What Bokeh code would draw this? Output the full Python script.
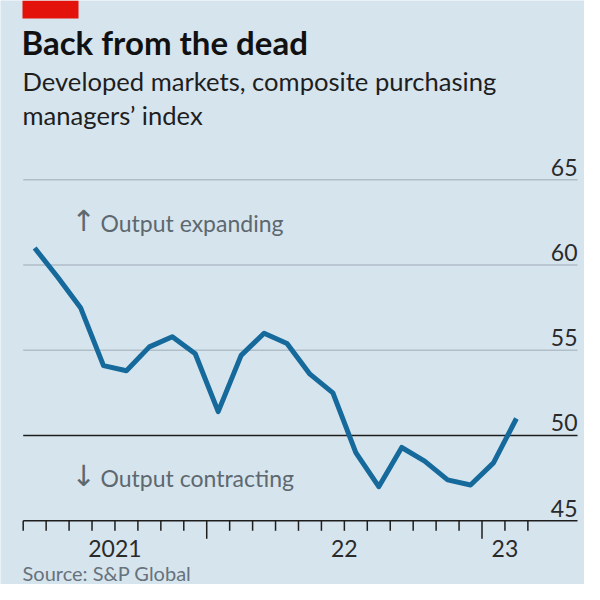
from bokeh.plotting import figure
from bokeh.models import Range1d
from bokeh.embed import file_html
from bokeh.resources import INLINE
from bokeh.core.properties import value

# ---- data ----
months = ["2021-05", "2021-06", "2021-07", "2021-08", "2021-09", "2021-10", "2021-11", "2021-12",
          "2022-01", "2022-02", "2022-03", "2022-04", "2022-05", "2022-06", "2022-07", "2022-08",
          "2022-09", "2022-10", "2022-11", "2022-12", "2023-01", "2023-02"]
pmi = [61.0, 59.3, 57.5, 54.1, 53.8, 55.2, 55.8, 54.8, 51.4, 54.7, 56.0, 55.4,
       53.6, 52.5, 49.0, 47.0, 49.3, 48.5, 47.4, 47.1, 48.4, 51.0]
y_ticks = [45, 50, 55, 60, 65]
y_tick_labels = ["45", "50", "55", "60", "65"]
year_labels = ["2021", "22", "23"]
year_starts = [8, 20]          # month index of 1 Jan 2022 and 1 Jan 2023 (index 0 = May 2021)
n_month_ticks = 23             # month boundaries May 2021 .. Mar 2023

# ---- geometry (pixel scale of the canvas) ----
W, H = 584, 584
PPM = 22.94      # pixels per month
PPU = 17.05      # pixels per index point
X_LEFT_PX = 22.7
Y45_PX = 520.3
xs = -X_LEFT_PX / PPM
xe = xs + W / PPM
yt = 45 + Y45_PX / PPU
yb = yt - H / PPU


def X(px):
    return xs + px / PPM


def Y(py):
    return yt - py / PPU


def boff(size, k=0.42):
    # correction so that the given y is the alphabetic baseline
    return -k * size


BG = "#d6e4ee"
FONT = "Lato"
p = figure(width=W, height=H, output_backend="svg", toolbar_location=None,
           x_axis_location=None, y_axis_location=None,
           x_range=Range1d(xs, xe), y_range=Range1d(yb, yt),
           min_border=0, background_fill_color=BG, border_fill_color=BG,
           outline_line_color=None)
p.grid.visible = False

x_end = X(577)

# gridlines
grid_levels = [v for v in y_ticks if v not in (45, 50)]
p.segment(x0=[0] * len(grid_levels), x1=[x_end] * len(grid_levels), y0=grid_levels, y1=grid_levels,
          line_color="#b0bec8", line_width=1.6)
# 50 line and axis baseline
p.segment(x0=[0, 0], x1=[x_end, x_end], y0=[50, 45], y1=[50, 45], line_color="#1e1e1e", line_width=1.6)

# month ticks
tick_len = 10 / PPU
long_len = 18 / PPU
tx = list(range(n_month_ticks))
ty1 = [45 - (long_len if t in year_starts else tick_len) for t in tx]
p.segment(x0=tx, x1=tx, y0=[45] * len(tx), y1=ty1, line_color="#1e1e1e", line_width=1.5)

# year labels centred in the visible span of each year
NS = 23
bounds = [0] + year_starts + [n_month_ticks - 1]
year_pos = [(bounds[i] + bounds[i + 1]) / 2 for i in range(len(year_labels))]
p.text(x=year_pos, y=[45] * len(year_pos), text=year_labels, text_align="center",
       text_baseline="alphabetic", y_offset=37.5 + boff(NS), text_font=value(FONT),
       text_font_size=f"{NS}px", text_color="#2a2a2a")

# y labels at right, above the lines
p.text(x=[x_end] * len(y_ticks), y=y_ticks, text=y_tick_labels, text_align="right",
       text_baseline="alphabetic", y_offset=-3 + boff(NS), text_font=value(FONT),
       text_font_size=f"{NS}px", text_color="#2a2a2a")

# data line
mx = [i + 0.5 for i in range(len(pmi))]
p.line(mx, pmi, line_color="#15699b", line_width=5, line_join="round", line_cap="butt")

# annotations
ANN = "#5d686f"
AS = 23
ARS = 29
p.text(x=[X(71), X(71)], y=[Y(233), Y(488.3)], text=["↑", "↓"], text_font=value("DejaVu Sans"),
       text_font_size=f"{ARS}px", text_color=ANN, text_baseline="alphabetic", y_offset=boff(ARS, 0.44))
p.text(x=[X(100)], y=[Y(232)], text=["Output expanding"], text_font=value(FONT),
       text_font_size=f"{AS}px", text_color=ANN, text_baseline="alphabetic", y_offset=boff(AS))
p.text(x=[X(100)], y=[Y(487.3)], text=["Output contracting"], text_font=value(FONT),
       text_font_size=f"{AS}px", text_color=ANN, text_baseline="alphabetic", y_offset=boff(AS))

# header
p.quad(left=[X(22)], right=[X(78)], top=[Y(0)], bottom=[Y(18)], fill_color="#e3120b", line_color=None)
TS = 33
p.text(x=[X(21)], y=[Y(55)], text=["Back from the dead"], text_font=value(FONT),
       text_font_style="bold", text_font_size=f"{TS}px", text_color="#111111",
       text_baseline="alphabetic", y_offset=boff(TS))
SS = 25.6
p.text(x=[X(22), X(22)], y=[Y(91.7), Y(125)],
       text=["Developed markets, composite purchasing", "managers’ index"],
       text_font=value(FONT), text_font_size=f"{SS}px", text_color="#1e1e1e",
       text_baseline="alphabetic", y_offset=boff(SS))
CS = 20
p.text(x=[X(22)], y=[Y(581)], text=["Source: S&P Global"], text_font=value(FONT),
       text_font_size=f"{CS}px", text_color="#67727a", text_baseline="alphabetic", y_offset=boff(CS))

open("out.html", "w").write(file_html(p, INLINE))
